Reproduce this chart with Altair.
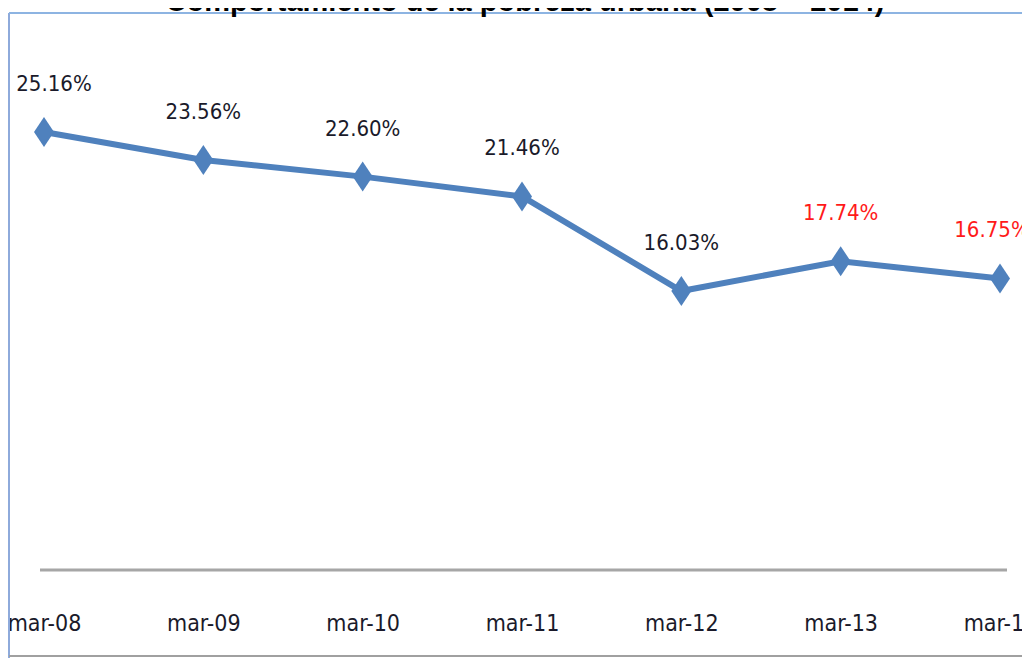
import altair as alt
import pandas as pd

periodos = ["mar-08", "mar-09", "mar-10", "mar-11", "mar-12", "mar-13", "mar-14"]
pobreza = [25.16, 23.56, 22.60, 21.46, 16.03, 17.74, 16.75]
etiquetas = ["25.16%", "23.56%", "22.60%", "21.46%", "16.03%", "17.74%", "16.75%"]
grupo = ["normal", "normal", "normal", "normal", "normal", "resaltado", "resaltado"]
titulo = "Comportamiento de la pobreza urbana (2008 – 2014)"

df = pd.DataFrame({
    "periodo": periodos,
    "pobreza": pobreza,
    "etiqueta": etiquetas,
    "grupo": grupo,
    "i": list(range(len(periodos))),
})

W, H = 1013, 557
BOTTOM = 88
FONT = "DejaVu Sans Condensed"
FS = 22

x = alt.X("periodo:N", sort=periodos,
          scale=alt.Scale(type="point", range=[35, 991], padding=0),
          axis=alt.Axis(title=None, labelAngle=0, ticks=False, grid=False, domain=False,
                        labelFont=FONT, labelFontSize=23, labelColor="#1a1a2a",
                        labelBaseline="alphabetic", labelPadding=60))
y = alt.Y("pobreza:Q", scale=alt.Scale(domain=[0, 32]), axis=None)

base = alt.Chart(df).encode(x=x, y=y)

linea = base.mark_line(color="#4F81BD", strokeWidth=6)
puntos = base.mark_point(shape="M0,-1.5L1,0L0,1.5L-1,0Z", size=400, filled=True,
                         color="#4F81BD", opacity=1)

color_txt = alt.Color("grupo:N", scale=alt.Scale(domain=["normal", "resaltado"],
                                                 range=["#1a1a2a", "#FF1a1a"]), legend=None)

def texto(dx, cond):
    return base.mark_text(font=FONT, fontSize=FS, baseline="alphabetic", dy=-41, dx=dx).encode(
        text="etiqueta:N", color=color_txt).transform_filter(cond)

t1 = texto(10, "datum.i == 0")
t2 = texto(0, "datum.i > 0 && datum.i < 6")
t3 = texto(-8, "datum.i == 6")

uno = alt.Data(values=[{"a": 1}])
eje = alt.Chart(uno).mark_rule(color="#A6A6A6", strokeWidth=3).encode(
    x=alt.value(31), x2=alt.value(998), y=alt.value(H))
borde_izq = alt.Chart(uno).mark_rule(color="#8EAADB", strokeWidth=2).encode(
    x=alt.value(0), y=alt.value(0), y2=alt.value(H + BOTTOM))
borde_sup = alt.Chart(uno).mark_rule(color="#8DB4E2", strokeWidth=2).encode(
    x=alt.value(0), x2=alt.value(W), y=alt.value(0))
borde_inf = alt.Chart(uno).mark_rule(color="#A0A0A0", strokeWidth=2).encode(
    x=alt.value(0), x2=alt.value(W), y=alt.value(H + BOTTOM - 2))
tit = alt.Chart(uno).mark_text(font="Liberation Sans", fontWeight="bold", fontSize=29,
                               baseline="alphabetic", color="#000000").encode(
    x=alt.value(516), y=alt.value(-2.5), text=alt.value(titulo))

chart = alt.layer(borde_izq, borde_sup, borde_inf, eje, tit, linea, puntos, t1, t2, t3).properties(
    width=W, height=H,
    autosize=alt.AutoSizeParams(type="none"),
    padding={"left": 1, "top": 5, "right": 0, "bottom": BOTTOM},
).configure(background="#ffffff").configure_view(stroke="transparent", strokeWidth=0)

chart.save("out.html", embed_options={"renderer": "svg", "actions": False})
